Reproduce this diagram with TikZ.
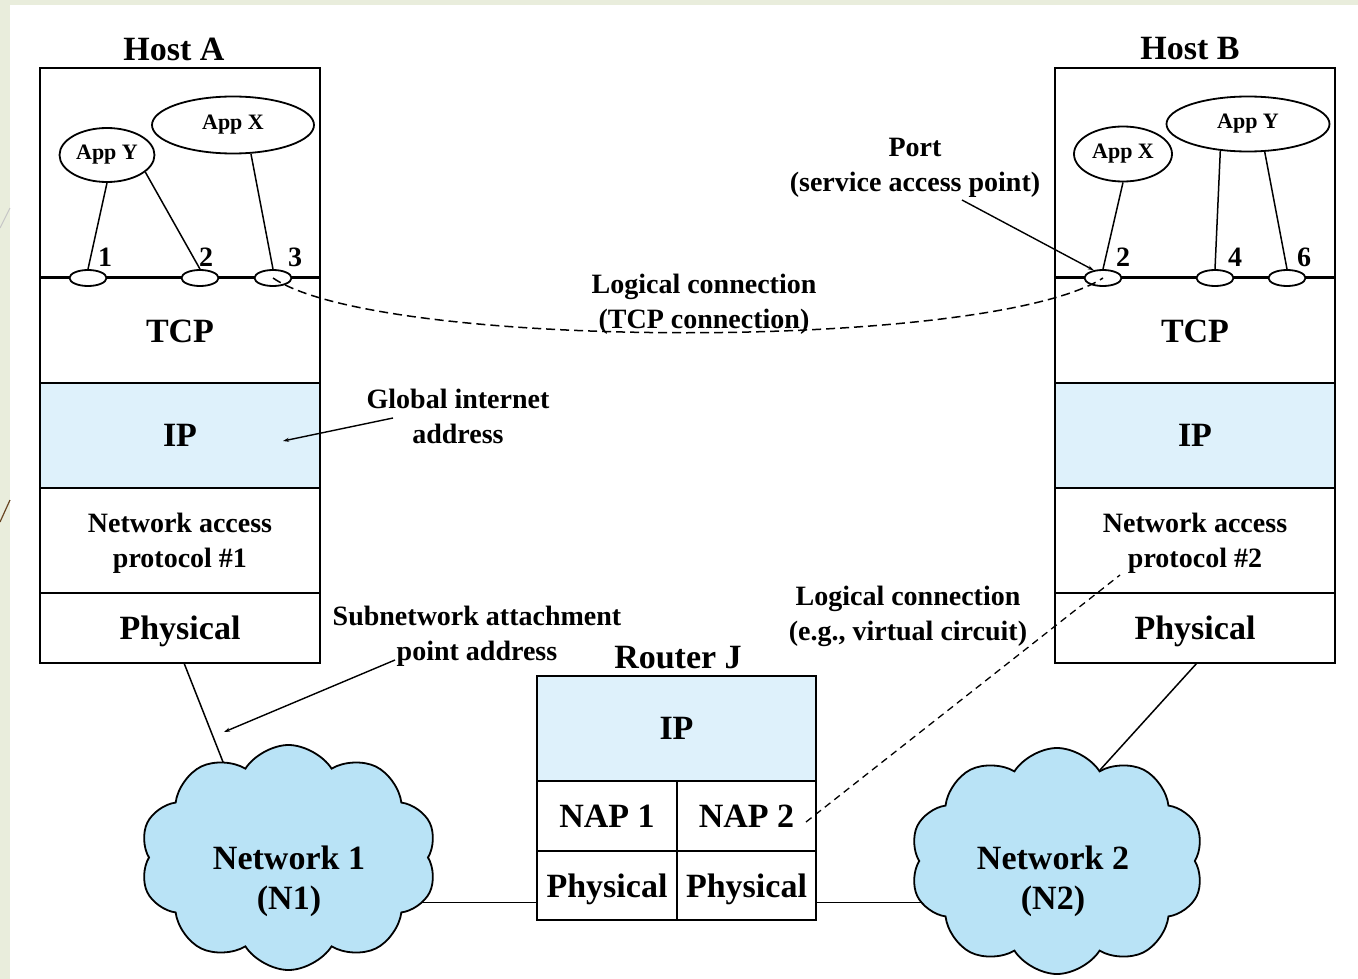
\documentclass[tikz,border=0pt]{standalone}
\usepackage{fontspec}
\setmainfont{Liberation Serif}
\usetikzlibrary{shapes.geometric,shapes.symbols,arrows.meta,calc}
\definecolor{ipblue}{RGB}{222,241,251}
\definecolor{cloudblue}{RGB}{185,227,246}
\definecolor{slidebg}{RGB}{233,237,220}
\begin{document}
\begin{tikzpicture}[x=1pt,y=-1pt,
  big/.style={font=\fontsize{34}{40}\selectfont\bfseries,align=center},
  med/.style={font=\fontsize{28}{35}\selectfont\bfseries,align=center},
  num/.style={font=\fontsize{28}{30}\selectfont\bfseries,inner sep=0pt},
  layer/.style={draw,line width=2.2pt,minimum width=280pt,inner sep=0pt,outer sep=0pt,align=center,text depth=0pt},
  appel/.style={ellipse,draw,line width=1.8pt,fill=white,inner sep=0pt,font=\fontsize{22}{24}\selectfont\bfseries},
  portel/.style={ellipse,draw,line width=1.8pt,fill=white,minimum width=37pt,minimum height=16pt,inner sep=0pt},
  wire/.style={line width=1.5pt},
  ptr/.style={line width=1.4pt,-{Stealth[length=6pt,width=4pt]}},
  dashline/.style={line width=1.5pt,dash pattern=on 9pt off 5pt},
  cloudsh/.style={cloud,cloud puffs=10,cloud puff arc=115,cloud ignores aspect,draw,line width=1.8pt,fill=cloudblue,inner sep=0pt}
]
\useasboundingbox (0,0) rectangle (1358,979);
\fill[white] (0,0) rectangle (1358,979);
\fill[slidebg] (0,0) rectangle (10,979);
\fill[slidebg] (0,0) rectangle (1358,5);
\draw[gray!45,line width=1pt] (0,228) -- (10,208);
\draw[brown!55!black,line width=1.2pt] (0,522) -- (10,500);

% Host A stack
\node[big] (hostAlbl) at (174,49) {Host A};
\node[layer,minimum height=209pt] (topA) at (180,172.5) {};
\node[layer,big,minimum height=106pt] (tcpA) at (180,331) {TCP};
\node[layer,big,fill=ipblue,minimum height=105pt] (ipA) at (180,435.5) {IP};
\node[layer,med,minimum height=105pt] (napA) at (180,540.5) {Network access\\protocol \#1};
\node[layer,big,minimum height=70pt] (phyA) at (180,628) {Physical};

% Host B stack
\node[big] (hostBlbl) at (1190,49) {Host B};
\node[layer,minimum height=209pt] (topB) at (1195,172.5) {};
\node[layer,big,minimum height=106pt] (tcpB) at (1195,331) {TCP};
\node[layer,big,fill=ipblue,minimum height=105pt] (ipB) at (1195,435.5) {IP};
\node[layer,med,minimum height=105pt] (napB) at (1195,540.5) {Network access\\protocol \#2};
\node[layer,big,minimum height=70pt] (phyB) at (1195,628) {Physical};

% Applications
\node[appel,minimum width=95pt,minimum height=54pt] (ayA) at (107,155) {App Y};
\node[appel,minimum width=162pt,minimum height=57pt] (axA) at (233,125) {App X};
\node[appel,minimum width=98pt,minimum height=55pt] (axB) at (1123,154) {App X};
\node[appel,minimum width=163pt,minimum height=55pt] (ayB) at (1248,124) {App Y};

% Ports
\node[portel] (pA1) at (88,278) {};
\node[portel] (pA2) at (200,278) {};
\node[portel] (pA3) at (273,278) {};
\node[portel] (pB2) at (1103,278) {};
\node[portel] (pB4) at (1215,278) {};
\node[portel] (pB6) at (1287,278) {};
\node[num] (nA1) at (105,257) {1};
\node[num] (nA2) at (206,257) {2};
\node[num] (nA3) at (295,257) {3};
\node[num] (nB2) at (1123,257) {2};
\node[num] (nB4) at (1235,257) {4};
\node[num] (nB6) at (1304,257) {6};

\draw[wire] (ayA.south) -- (pA1.north);
\draw[wire] (ayA.-24) -- (pA2.north);
\draw[wire] (axA.-58) -- (pA3.north);
\draw[wire] (axB.south) -- (pB2.north);
\draw[wire] (ayB.-136) -- (pB4.north);
\draw[wire] (ayB.-59) -- (pB6.north);

% TCP logical connection
\draw[dashline] (pA3.center) .. controls (380,351) and (990,351) .. (pB2.center);
\node[med] (tcplbl) at (704,304) {Logical connection\\(TCP connection)};

% Port label
\node[med] (portlbl) at (915,168) {Port\\(service access point)};
\coordinate (portfrom) at (962,200);
\draw[ptr] (portfrom) -- (pB2.140);

% Global internet address
\node[med] (glbl) at (458,416) {Global internet\\address};
\coordinate (gfrom) at (393,418);
\coordinate (gto) at (283,441);
\draw[ptr] (gfrom) -- (gto);

% Subnetwork attachment
\node[med] (slbl) at (477,636) {Subnetwork attachment\\point address};
\coordinate (sfrom) at (395,660);
\coordinate (sto) at (224,732);
\draw[ptr] (sfrom) -- (sto);

% Router J
\node[big] (rlbl) at (678,658) {Router J};
\node[layer,big,fill=ipblue,minimum width=279pt,minimum height=105pt] (rip) at (676.5,728.5) {IP};
\node[layer,big,minimum width=140pt,minimum height=70pt] (rnap1) at (607,816) {NAP 1};
\node[layer,big,minimum width=139pt,minimum height=70pt] (rnap2) at (746.5,816) {NAP 2};
\node[layer,big,minimum width=140pt,minimum height=69pt] (rphy1) at (607,885.5) {Physical};
\node[layer,big,minimum width=139pt,minimum height=69pt] (rphy2) at (746.5,885.5) {Physical};

% connectors to clouds (drawn under the clouds)
\coordinate (n1hook) at ($(rphy1.west)+(0,17)$);
\coordinate (n2hook) at ($(rphy2.east)+(0,17)$);
\coordinate (n1top) at (238,800);
\coordinate (n2top) at (1100,770);
\draw[wire] (n1hook) -- (289,902.5);
\draw[wire] (n2hook) -- (1057,902.5);
\draw[wire] ($(phyA.south)+(4,0)$) -- (n1top);
\draw[wire] ($(phyB.south)+(2,0)$) -- (n2top);

% Clouds
\node[cloudsh,minimum width=297pt,minimum height=225pt] (n1) at (288.5,857.5) {};
\node[big] (n1lbl) at (289,881) {Network 1\\(N1)};
\node[cloudsh,minimum width=294pt,minimum height=226pt] (n2) at (1057,861) {};
\node[big] (n2lbl) at (1053,881) {Network 2\\(N2)};

% Virtual circuit
\node[med] (vclbl) at (908,616) {Logical connection\\(e.g., virtual circuit)};
\coordinate (vcfrom) at (806,822);
\coordinate (vcto) at (1120,575);
\draw[dashline,line width=1.3pt,dash pattern=on 7pt off 5pt] (vcfrom) -- (vcto);
\end{tikzpicture}
\end{document}
